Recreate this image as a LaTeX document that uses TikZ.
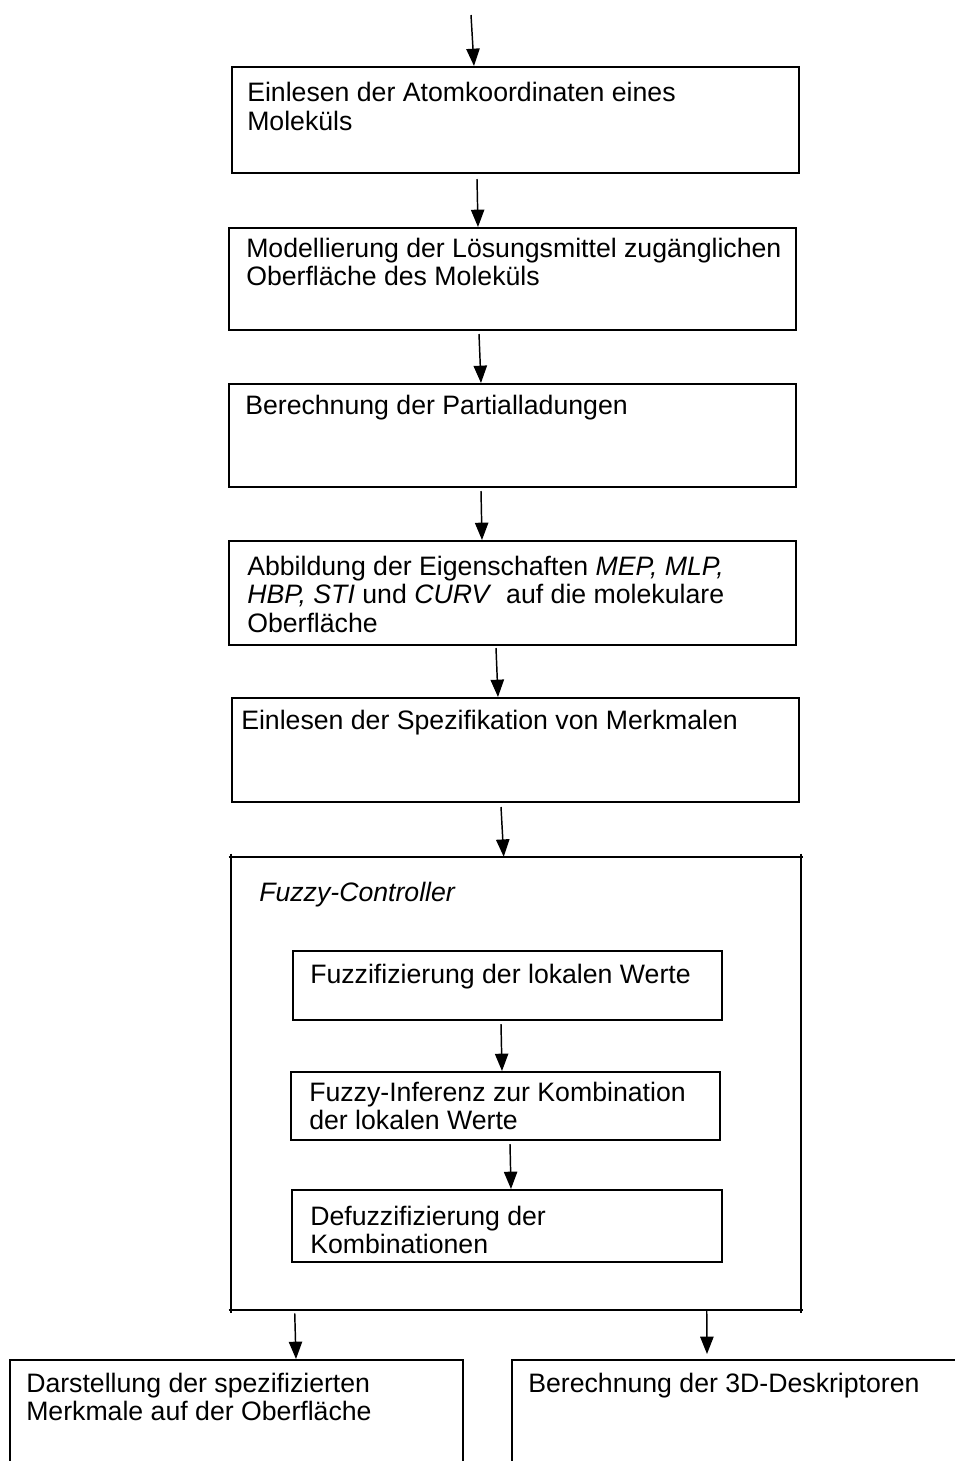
\documentclass[tikz,border=0pt]{standalone}
\usepackage{fontspec}
\setmainfont{Liberation Sans}
\usetikzlibrary{arrows.meta,fit,calc}

% multi-line label whose baseline is that of its first line
\newcommand\boxlines[1]{\begin{tabular}[t]{@{}l@{}}#1\end{tabular}}

\begin{document}
\begin{tikzpicture}[x=0.75pt,y=-0.75pt,
  box/.style={draw, line width=1.5pt, inner sep=0pt},
  frame/.style={line width=1.4pt},
  lbl/.style={anchor=base west, inner sep=0pt, font=\fontsize{20}{21.5}\selectfont},
  flow/.style={line width=1.1pt, -{Triangle[length=13pt,width=10pt]}}]
\useasboundingbox (0,0) rectangle (955,1461);
\clip (0,0) rectangle (955,1461);

% process steps
\node[box, fit={(232,67) (799,173)}]  (b1) {};
\node[box, fit={(229,228) (796,330)}] (b2) {};
\node[box, fit={(229,384) (796,487)}] (b3) {};
\node[box, fit={(229,541) (796,645)}] (b4) {};
\node[box, fit={(232,698) (799,802)}] (b5) {};

% fuzzy controller frame with its inner steps
\node[inner sep=0pt, fit={(231,857) (801,1310)}] (fc) {};
\draw[frame] ($(fc.north west)+(-2,0)$) -- ($(fc.north east)+(2,0)$);
\draw[frame] ($(fc.south west)+(-2,0)$) -- ($(fc.south east)+(2,0)$);
\draw[frame] ($(fc.north west)+(0,-3)$) -- ($(fc.south west)+(0,3)$);
\draw[frame] ($(fc.north east)+(0,-3)$) -- ($(fc.south east)+(0,3)$);
\node[box, fit={(293,951) (722,1020)}]  (i1) {};
\node[box, fit={(291,1072) (720,1140)}] (i2) {};
\node[box, fit={(292,1190) (722,1262)}] (i3) {};

% output steps, open towards the bottom
\node[box, fit={(10,1360) (463,1500)}]  (d1) {};
\node[box, fit={(512,1360) (990,1500)}] (d2) {};

% labels
\node[lbl] (t1) at (247,101.5) {\boxlines{Einlesen der Atomkoordinaten eines\\ Moleküls}};
\node[lbl] (t2) at (246,257) {\boxlines{Modellierung der Lösungsmittel zugänglichen\\ Oberfläche des Moleküls}};
\node[lbl] (t3) at (245,414) {Berechnung der Partialladungen};
\node[lbl] (t4) at (247,575) {\boxlines{Abbildung der Eigenschaften \textit{MEP, MLP,}\\
  \textit{HBP, STI} und \textit{CURV}\ \ auf die molekulare\\ Oberfläche}};
\node[lbl] (t5) at (241,729) {Einlesen der Spezifikation von Merkmalen};
\node[lbl] (tf) at (259,901) {\textit{Fuzzy-Controller}};
\node[lbl] (ti1) at (310,983) {Fuzzifizierung der lokalen Werte};
\node[lbl] (ti2) at (309,1101) {\boxlines{Fuzzy-Inferenz zur Kombination\\ der lokalen Werte}};
\node[lbl] (ti3) at (310,1225) {\boxlines{Defuzzifizierung der\\ Kombinationen}};
\node[lbl] (td1) at (26,1392) {\boxlines{Darstellung der spezifizierten\\ Merkmale auf der Oberfläche}};
\node[lbl] (td2) at (528,1392) {Berechnung der 3D-Deskriptoren};

% connectors
\coordinate (in) at (471,15);
\draw[flow] (in) -- ($(b1.north west)+(243,0)$);
\draw[flow] ($(b1.south west)+(246,5)$) -- ($(b2.north west)+(250,0)$);
\draw[flow] ($(b2.south west)+(251,3)$) -- ($(b3.north west)+(253,0)$);
\draw[flow] ($(b3.south west)+(253,3)$) -- ($(b4.north west)+(254,0)$);
\draw[flow] ($(b4.south west)+(268,2)$) -- ($(b5.north west)+(267,0)$);
\draw[flow] ($(b5.south west)+(270,4)$) -- ($(fc.north west)+(273,0)$);
\draw[flow] ($(i1.south west)+(209,3)$) -- ($(i2.north west)+(212,0)$);
\draw[flow] ($(i2.south west)+(220,3)$) -- ($(i3.north west)+(220,0)$);
\draw[flow] ($(fc.south west)+(64,3)$) -- ($(d1.north west)+(287,0)$);
\draw[flow] ($(fc.south west)+(476,-1)$) -- ($(d2.north west)+(196,-5)$);
\end{tikzpicture}
\end{document}
